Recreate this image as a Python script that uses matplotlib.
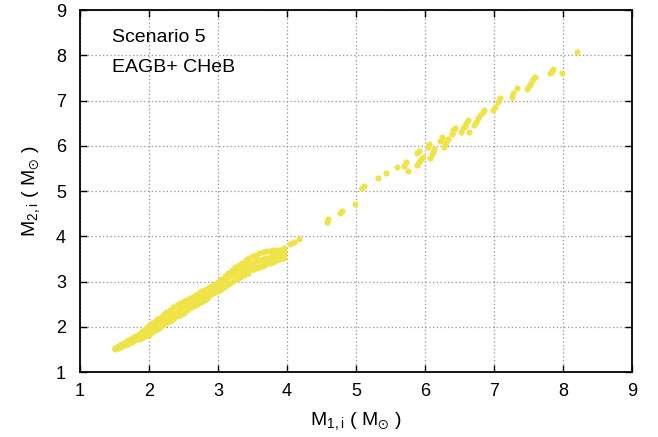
import matplotlib
matplotlib.use("Agg")
import matplotlib.pyplot as plt

plt.rcParams['font.family'] = ['Liberation Sans', 'DejaVu Sans']
plt.rcParams['mathtext.default'] = 'regular'

# main band, x = 1.50 ... 3.00 (upper edge, middle, lower edge)
band_m1 = [1.50, 1.55, 1.60, 1.65, 1.70, 1.75, 1.80, 1.85, 1.90, 1.95, 2.00,
           2.05, 2.10, 2.15, 2.20, 2.25, 2.30, 2.35, 2.40, 2.45, 2.50, 2.55,
           2.60, 2.65, 2.70, 2.75, 2.80, 2.85, 2.90, 2.95, 3.00]
band_top = [1.54, 1.58, 1.63, 1.67, 1.71, 1.76, 1.80, 1.85, 1.91, 1.97, 2.03,
            2.09, 2.14, 2.20, 2.26, 2.32, 2.37, 2.43, 2.47, 2.52, 2.56, 2.60,
            2.64, 2.69, 2.73, 2.78, 2.82, 2.86, 2.91, 2.95, 3.00]
band_mid = [1.52, 1.56, 1.60, 1.63, 1.67, 1.72, 1.75, 1.79, 1.84, 1.88, 1.93,
            1.99, 2.04, 2.09, 2.15, 2.20, 2.25, 2.31, 2.35, 2.40, 2.44, 2.48,
            2.53, 2.58, 2.62, 2.67, 2.71, 2.76, 2.82, 2.86, 2.91]
band_bot = [1.50, 1.53, 1.56, 1.59, 1.63, 1.67, 1.70, 1.73, 1.76, 1.79, 1.82,
            1.88, 1.93, 1.98, 2.03, 2.08, 2.13, 2.18, 2.23, 2.27, 2.31, 2.36,
            2.41, 2.46, 2.50, 2.55, 2.60, 2.65, 2.72, 2.77, 2.81]

# upper cloud, x = 3.05 ... 3.95
cloud_m1 = [3.05, 3.10, 3.15, 3.20, 3.25, 3.30, 3.35, 3.40, 3.45, 3.50, 3.55,
            3.60, 3.65, 3.70, 3.75, 3.80, 3.85, 3.90, 3.95]
cloud_top = [3.06, 3.12, 3.19, 3.26, 3.32, 3.37, 3.42, 3.47, 3.52, 3.56, 3.59,
             3.62, 3.65, 3.67, 3.68, 3.69, 3.70, 3.70, 3.73]
cloud_mid = [3.01, 3.08, 3.15, 3.20, 3.25, 3.29, 3.32, 3.36, 3.39, 3.42, 3.45,
             3.47, 3.50, 3.53, 3.55, 3.57, 3.59, 3.60, 3.63]
cloud_bot = [2.97, 3.03, 3.10, 3.14, 3.17, 3.20, 3.22, 3.24, 3.26, 3.28, 3.30,
             3.32, 3.35, 3.38, 3.41, 3.44, 3.47, 3.50, 3.53]

# lower streak below the cloud
streak_m1 = [2.69, 2.79, 2.83, 2.93, 2.98, 3.03, 3.08, 3.13, 3.18, 3.22, 3.27,
             3.32, 3.37, 3.44, 3.51, 3.58, 3.65, 3.71, 3.78]
streak_m2 = [2.50, 2.59, 2.61, 2.74, 2.79, 2.82, 2.87, 2.92, 2.97, 3.02, 3.06,
             3.10, 3.15, 3.19, 3.27, 3.33, 3.39, 3.44, 3.51]

# sparse systems at higher mass
high_m1 = [4.04, 4.10, 4.18, 4.58, 4.60, 4.77, 4.79, 4.99, 5.08, 5.11, 5.32,
           5.44, 5.59, 5.70, 5.72, 5.75, 5.89, 5.91, 5.94, 5.97, 5.89, 5.92,
           6.05, 6.06, 6.07, 6.10, 6.12, 6.13, 6.22, 6.24, 6.27, 6.29, 6.31,
           6.34, 6.39, 6.41, 6.43, 6.52, 6.55, 6.58, 6.60, 6.63, 6.64, 6.71,
           6.74, 6.77, 6.80, 6.84, 6.86, 6.99, 7.01, 7.06, 7.09, 7.26, 7.28,
           7.34, 7.48, 7.51, 7.54, 7.57, 7.60, 7.81, 7.84, 7.86, 7.98, 8.21]
high_m2 = [3.83, 3.87, 3.93, 4.31, 4.38, 4.52, 4.56, 4.71, 5.06, 5.10, 5.28,
           5.39, 5.54, 5.56, 5.65, 5.45, 5.57, 5.65, 5.70, 5.76, 5.83, 5.88,
           5.98, 6.03, 5.74, 5.82, 5.87, 5.93, 6.11, 6.20, 5.98, 6.04, 6.09,
           6.14, 6.27, 6.35, 6.40, 6.31, 6.39, 6.44, 6.50, 6.57, 6.30, 6.46,
           6.53, 6.61, 6.68, 6.75, 6.80, 6.80, 6.86, 6.97, 7.06, 7.08, 7.16,
           7.28, 7.25, 7.32, 7.38, 7.47, 7.53, 7.60, 7.66, 7.69, 7.60, 8.07]

ticks = [1, 2, 3, 4, 5, 6, 7, 8, 9]

fig = plt.figure(figsize=(6.58, 4.37), dpi=100)
ax = fig.add_axes([0.1216, 0.1487, 0.8389, 0.8284])

style = dict(linestyle='none', marker='o', ms=3.8, mfc='#f0e442',
             mec='#efe24f', mew=0.6, zorder=3)
for ys in (band_top, band_mid, band_bot):
    ax.plot(band_m1, ys, **style)
for ys in (cloud_top, cloud_mid, cloud_bot):
    ax.plot(cloud_m1, ys, **style)
ax.plot(streak_m1, streak_m2, **style)
ax.plot(high_m1, high_m2, **style)

ax.set_xlim(1, 9)
ax.set_ylim(1, 9)
ax.set_xticks(ticks)
ax.set_yticks(ticks)
ax.grid(True, linestyle=(0, (1, 2)), color='#909090', linewidth=0.9)
ax.set_axisbelow(True)
ax.tick_params(direction='in', length=5, width=1, top=True, right=True,
               labelsize=13)
ax.tick_params(axis='x', pad=8)
ax.tick_params(axis='y', pad=10)
for sp in ax.spines.values():
    sp.set_linewidth(1.3)

ax.set_xlabel(r'M$_{1,i}$ ( M$_{\odot}$ )', fontsize=14, labelpad=7)
ax.set_ylabel(r'M$_{2,i}$ ( M$_{\odot}$ )', fontsize=14, labelpad=10)

ax.text(0.058, 0.923, 'Scenario 5', transform=ax.transAxes, fontsize=14,
        va='center', ha='left')
ax.text(0.058, 0.84, 'EAGB+ CHeB', transform=ax.transAxes, fontsize=14,
        va='center', ha='left')

fig.savefig('out.png', dpi=100)
